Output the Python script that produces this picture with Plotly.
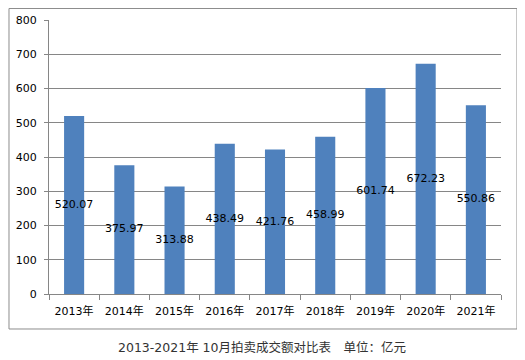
import plotly.graph_objects as go

years = ["2013年", "2014年", "2015年", "2016年", "2017年", "2018年", "2019年", "2020年", "2021年"]
values = [520.07, 375.97, 313.88, 438.49, 421.76, 458.99, 601.74, 672.23, 550.86]
labels = ["520.07", "375.97", "313.88", "438.49", "421.76", "458.99", "601.74", "672.23", "550.86"]
yticks = [0, 100, 200, 300, 400, 500, 600, 700, 800]
title = "2013-2021年 10月拍卖成交额对比表\u3000单位：亿元"

font_family = "DejaVu Sans, Noto Sans CJK SC"

fig = go.Figure()
fig.add_trace(go.Bar(
    x=years, y=values,
    marker=dict(color="#4F81BD", line=dict(width=0)),
    width=0.4, hoverinfo="x+y",
))
# value labels centred in each bar
fig.add_trace(go.Scatter(
    x=years, y=[v / 2 for v in values], text=labels, mode="text",
    textposition="middle center",
    textfont=dict(color="black", size=11, family=font_family),
    hoverinfo="skip",
))

fig.update_layout(
    width=517, height=352,
    margin=dict(l=41, r=24, t=12, b=66, autoexpand=False),
    paper_bgcolor="white", plot_bgcolor="white",
    showlegend=False,
    font=dict(family=font_family, size=11, color="black"),
    shapes=[dict(type="rect", xref="paper", yref="paper",
                 x0=-0.0885, x1=1.0354, y0=-0.1277, y1=1.042,
                 line=dict(color="#8c8c8c", width=1), fillcolor="rgba(0,0,0,0)", layer="below")],
    annotations=[dict(text=title, xref="paper", yref="paper", x=0.471, y=-0.197,
                      xanchor="center", yanchor="middle", showarrow=False,
                      font=dict(size=12.5, color="#333", family=font_family))],
)
fig.update_xaxes(
    showline=True, linecolor="#868686", linewidth=1, automargin=False,
    ticks="outside", tickson="boundaries", ticklen=5, tickcolor="#868686",
    showgrid=False, tickfont=dict(size=11), ticklabelstandoff=7,
)
fig.update_yaxes(
    range=[0, 800], tickvals=yticks, showline=True, linecolor="#868686", linewidth=1,
    ticks="outside", ticklen=4, tickcolor="#868686", automargin=False,
    showgrid=True, gridcolor="#868686", gridwidth=1, zeroline=False,
    tickfont=dict(size=11), ticklabelstandoff=5,
)
fig.write_html("out.html")
